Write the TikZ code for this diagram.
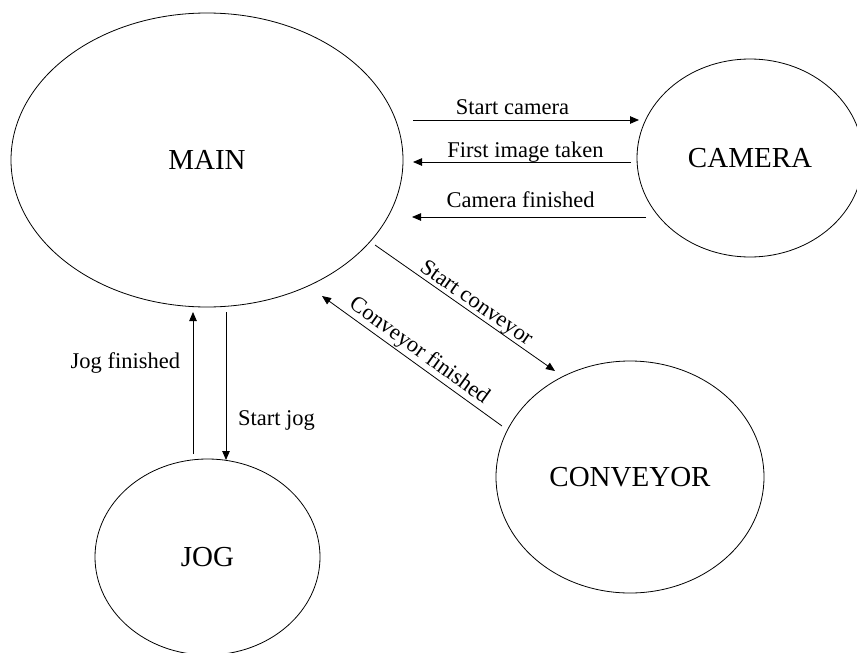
\documentclass[tikz,border=0pt]{standalone}
\usepackage{fontspec}
\setmainfont{Liberation Serif}
\usetikzlibrary{arrows.meta,shapes.geometric}
\tikzset{
  state/.style={draw, ellipse, line width=0.8pt, inner sep=0pt, font=\fontsize{29}{34}\selectfont},
  arr/.style={draw, line width=0.8pt, -{Triangle[length=9pt,width=7.5pt]}},
  lab/.style={font=\fontsize{22.5}{27}\selectfont, text depth=0pt, inner sep=0pt, outer sep=0pt},
}
\begin{document}
\begin{tikzpicture}[x=1pt,y=-1pt]
\useasboundingbox (0,0) rectangle (857,653);
\clip (0,0) rectangle (857,653);
\fill[white] (0,0) rectangle (857,653);
% states
\node[state, minimum width=392pt, minimum height=294pt] (MAIN) at (207,160) {MAIN};
\node[state, minimum width=226pt, minimum height=198pt] (CAMERA) at (750,158) {CAMERA};
\node[state, minimum width=268pt, minimum height=232pt] (CONVEYOR) at (630,477) {CONVEYOR};
\node[state, minimum width=225pt, minimum height=196pt] (JOG) at (207.5,557) {JOG};
% connector end points
\coordinate (sc1) at (413,120);  \coordinate (sc2) at (639,120);
\coordinate (fi1) at (631,162);  \coordinate (fi2) at (413,162);
\coordinate (cf1) at (646,217);  \coordinate (cf2) at (412,217);
\coordinate (sv1) at (375,245);  \coordinate (sv2) at (555,371);
\coordinate (vf1) at (502,426);  \coordinate (vf2) at (322,296);
\coordinate (jf1) at (193,454);  \coordinate (jf2) at (193,312);
\coordinate (sj1) at (226,312);  \coordinate (sj2) at (226,460);
% connectors
\draw[arr] (sc1) -- node[lab, pos=0.44, above, inner ysep=5.5pt] {Start camera} (sc2);
\draw[arr] (fi1) -- node[lab, pos=0.484, above, inner ysep=5pt] {First image taken} (fi2);
\draw[arr] (cf1) -- node[lab, pos=0.536, above, inner ysep=9.5pt] {Camera finished} (cf2);
\draw[arr] (sv1) -- node[lab, pos=0.53, sloped, above, inner ysep=4.5pt] {Start conveyor} (sv2);
\draw[arr, {Triangle[length=9pt,width=7.5pt]}-] (vf2) -- node[lab, pos=0.50, sloped, above, inner ysep=6.5pt] {Conveyor finished} (vf1);
\draw[arr] (jf1) -- node[lab, pos=0.66, left, inner xsep=13pt] {Jog finished} (jf2);
\draw[arr] (sj1) -- node[lab, pos=0.718, right, inner xsep=12pt] {Start jog} (sj2);
\end{tikzpicture}
\end{document}
